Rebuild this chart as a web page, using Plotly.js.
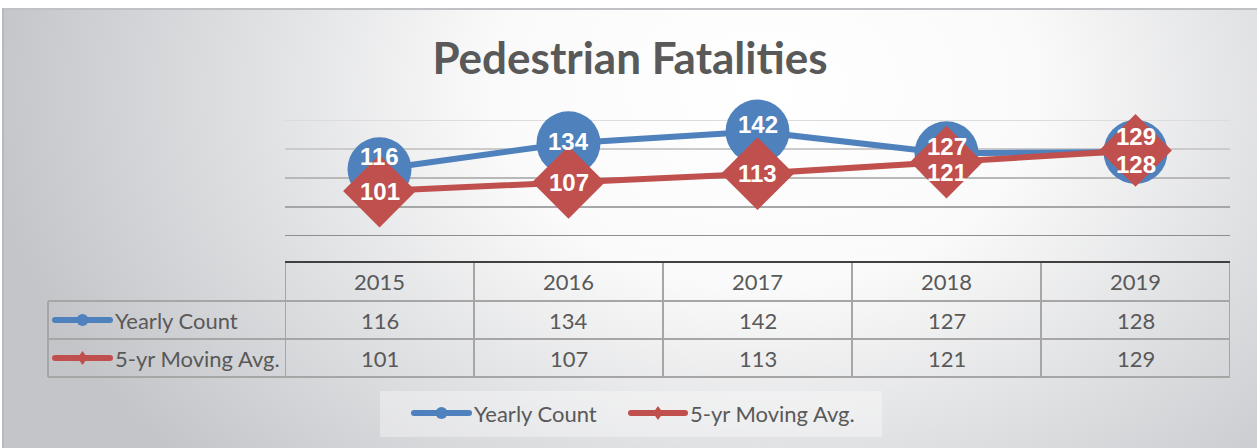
<!DOCTYPE html>
<html><head><meta charset="utf-8">
<script src="https://cdn.plot.ly/plotly-3.0.1.min.js"></script>
<style>
html,body{margin:0;padding:0;background:#ffffff;overflow:hidden;}
#bg{position:absolute;left:2px;top:8px;width:1255px;height:440px;border-top:2px solid #c0c1c5;border-left:2px solid #b8b9bd;box-sizing:border-box;
background: radial-gradient(ellipse 780px 560px at 760px 80px, #ffffff 0%, #fafafa 35%, #e0e1e3 65%, #c4c5c9 100%);}
#chart{position:absolute;left:0;top:0;width:1257px;height:448px;}
</style></head><body>
<div id="bg"></div><div id="chart"></div>
<script>
// ---- data ----
const years = ['2015', '2016', '2017', '2018', '2019'];
const yearlyCount = [116, 134, 142, 127, 128];
const movingAvg = [101, 107, 113, 121, 129];
const seriesNames = ['Yearly Count', '5-yr Moving Avg.'];
const gridValues = [70, 90, 110, 130, 150];
const chartTitle = 'Pedestrian Fatalities';

// ---- styling ----
const BLUE = '#4F81BD', RED = '#C0504D', TXT = '#595959';
const gridColors = ['#8e8e8e', '#a6a6a6', '#b8b8b8', '#cbcbcb', '#dcdcdc'];
const yearlyLabelShift = [13, 2, 7, 7, -13];
const avgLabelShift = [0, 0, 0, -10, 14];
const L = 285, R = 1230, T = 120, B = 236;
const W = 1257, H = 448;
const px = x => (x - L) / (R - L);
const py = y => (B - y) / (B - T);
const tableFont = {family: 'Lato, Carlito, Calibri, sans-serif', size: 22, color: TXT};
const labelFont = {family: 'Liberation Sans, Arial, sans-serif', size: 24, color: '#ffffff'};

const traces = [
  {x: years, y: yearlyCount, name: seriesNames[0], type: 'scatter', mode: 'lines+markers', cliponaxis: false,
   line: {color: BLUE, width: 6}, marker: {symbol: 'circle', size: 64, color: BLUE}, hoverinfo: 'skip'},
  {x: years, y: movingAvg, name: seriesNames[1], type: 'scatter', mode: 'lines+markers', cliponaxis: false,
   line: {color: RED, width: 6}, marker: {symbol: 'diamond', size: 56, color: RED}, hoverinfo: 'skip'}
];

const shapes = [];
const annotations = [];

// gridlines
gridValues.forEach((g, i) => {
  shapes.push({type: 'line', layer: 'below', xref: 'paper', yref: 'y', x0: 0, x1: 1, y0: g, y1: g,
    line: {color: gridColors[i], width: 2}});
});

// data labels (x as category index)
years.forEach((yr, i) => {
  annotations.push({x: i, y: yearlyCount[i], xref: 'x', yref: 'y', text: '<b>' + yearlyCount[i] + '</b>',
    showarrow: false, xanchor: 'center', yanchor: 'middle', yshift: yearlyLabelShift[i], font: labelFont});
});
years.forEach((yr, i) => {
  annotations.push({x: i, y: movingAvg[i], xref: 'x', yref: 'y', text: '<b>' + movingAvg[i] + '</b>',
    showarrow: false, xanchor: 'center', yanchor: 'middle', yshift: avgLabelShift[i], font: labelFont});
});

// data table
const rowTop = 262, rowH = [39, 38, 38];
const r0 = rowTop, r1 = r0 + rowH[0], r2 = r1 + rowH[1], r3 = r2 + rowH[2];
const gridLine = {color: '#a6a6a6', width: 2};
shapes.push({type: 'line', xref: 'paper', yref: 'paper', x0: px(L), x1: px(R), y0: py(r0), y1: py(r0), line: {color: '#404040', width: 2}});
[r1, r2, r3].forEach(r => shapes.push({type: 'line', xref: 'paper', yref: 'paper', x0: px(48), x1: px(R), y0: py(r), y1: py(r), line: gridLine}));
for (let i = 0; i <= years.length; i++) {
  shapes.push({type: 'line', xref: 'x', yref: 'paper', x0: i - 0.5, x1: i - 0.5, y0: py(r0 + 1), y1: py(r3), line: gridLine});
}
shapes.push({type: 'line', xref: 'paper', yref: 'paper', x0: px(48), x1: px(48), y0: py(r1), y1: py(r3), line: gridLine});

const rowsY = [(r0 + r1) / 2, (r1 + r2) / 2, (r2 + r3) / 2];
years.forEach((yr, i) => {
  annotations.push({x: i, xref: 'x', y: py(rowsY[0]), yref: 'paper', xanchor: 'center', yanchor: 'middle', text: yr, showarrow: false, font: tableFont});
  annotations.push({x: i, xref: 'x', y: py(rowsY[1]), yref: 'paper', xanchor: 'center', yanchor: 'middle', text: String(yearlyCount[i]), showarrow: false, font: tableFont});
  annotations.push({x: i, xref: 'x', y: py(rowsY[2]), yref: 'paper', xanchor: 'center', yanchor: 'middle', text: String(movingAvg[i]), showarrow: false, font: tableFont});
});

function key(x0, x1, yc, color, symbol) {
  shapes.push({type: 'line', xref: 'paper', yref: 'paper', x0: px(x0), x1: px(x1), y0: py(yc), y1: py(yc), line: {color: color, width: 6}});
  shapes.push({type: 'circle', xref: 'paper', yref: 'paper', x0: px(x0 - 3), x1: px(x0 + 3), y0: py(yc - 3), y1: py(yc + 3), fillcolor: color, line: {width: 0}});
  shapes.push({type: 'circle', xref: 'paper', yref: 'paper', x0: px(x1 - 3), x1: px(x1 + 3), y0: py(yc - 3), y1: py(yc + 3), fillcolor: color, line: {width: 0}});
  const xc = (x0 + x1) / 2;
  if (symbol === 'circle') {
    shapes.push({type: 'circle', xref: 'paper', yref: 'paper', x0: px(xc - 6), x1: px(xc + 6), y0: py(yc - 6), y1: py(yc + 6), fillcolor: color, line: {width: 0}});
  } else {
    const d = 'M ' + px(xc) + ',' + py(yc - 7) + ' L ' + px(xc + 5) + ',' + py(yc) + ' L ' + px(xc) + ',' + py(yc + 7) + ' L ' + px(xc - 5) + ',' + py(yc) + ' Z';
    shapes.push({type: 'path', xref: 'paper', yref: 'paper', path: d, fillcolor: color, line: {width: 0}});
  }
}
key(55, 110, rowsY[1], BLUE, 'circle');
key(55, 110, rowsY[2], RED, 'diamond');
annotations.push({x: px(113), xref: 'paper', y: py(rowsY[1]), yref: 'paper', xanchor: 'left', yanchor: 'middle', text: seriesNames[0], showarrow: false, font: tableFont});
annotations.push({x: px(113), xref: 'paper', y: py(rowsY[2]), yref: 'paper', xanchor: 'left', yanchor: 'middle', text: seriesNames[1], showarrow: false, font: tableFont});

shapes.push({type: 'rect', layer: 'below', xref: 'paper', yref: 'paper', x0: px(380), x1: px(882), y0: py(391), y1: py(437), fillcolor: 'rgba(255,255,255,0.35)', line: {width: 0}});
key(414, 469, 413, BLUE, 'circle');
key(631, 685, 413, RED, 'diamond');
annotations.push({x: px(472), xref: 'paper', y: py(413), yref: 'paper', xanchor: 'left', yanchor: 'middle', text: seriesNames[0], showarrow: false, font: tableFont});
annotations.push({x: px(688), xref: 'paper', y: py(413), yref: 'paper', xanchor: 'left', yanchor: 'middle', text: seriesNames[1], showarrow: false, font: tableFont});

const layout = {
  width: W, height: H,
  margin: {l: L, r: W - R, t: T, b: H - B, pad: 0},
  paper_bgcolor: 'rgba(0,0,0,0)', plot_bgcolor: 'rgba(0,0,0,0)',
  showlegend: false,
  title: {text: '<b>' + chartTitle + '</b>', xref: 'container', yref: 'container', x: 630 / W, xanchor: 'center', y: 1 - 59 / H, yanchor: 'middle',
    font: {family: 'Lato, Carlito, Calibri, sans-serif', size: 44, color: TXT}},
  xaxis: {type: 'category', range: [-0.5, years.length - 0.5], showgrid: false, zeroline: false, showline: false, showticklabels: false, ticks: '', fixedrange: true},
  yaxis: {range: [gridValues[0], gridValues[gridValues.length - 1]], showgrid: false, zeroline: false, showline: false, showticklabels: false, ticks: '', fixedrange: true},
  shapes: shapes,
  annotations: annotations
};

Plotly.newPlot('chart', traces, layout, {displayModeBar: false, staticPlot: true});
</script>
</body></html>
